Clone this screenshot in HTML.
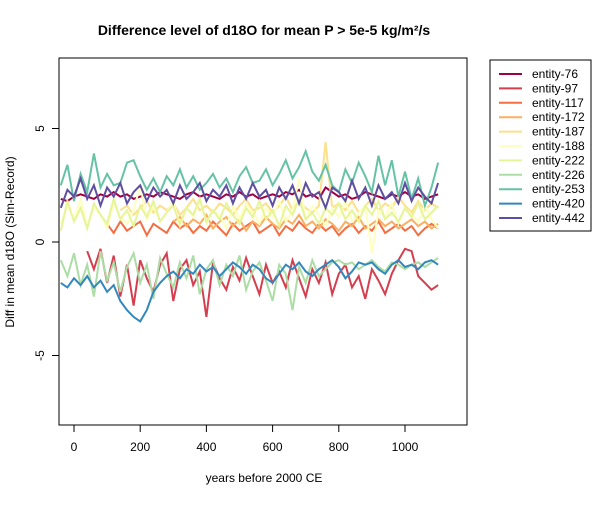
<!DOCTYPE html>
<html><head><meta charset="utf-8"><style>
body{margin:0;background:#fff;font-family:"Liberation Sans",sans-serif}
svg text{font-family:"Liberation Sans",sans-serif}
</style></head><body>
<svg id="chart" width="600" height="500">
<text x="264" y="35" text-anchor="middle" font-size="14" font-weight="bold">Difference level of d18O for mean P &gt; 5e-5 kg/m²/s</text>
<rect x="59" y="58" width="408" height="367" fill="none" stroke="#000"/>
<g id="series"></g>
<g id="axes"></g>
<text x="264" y="482" text-anchor="middle" font-size="12">years before 2000 CE</text>
<text transform="translate(14,242) rotate(-90)" text-anchor="middle" font-size="12">Diff in mean d18O (Sim-Record)</text>
<rect x="490" y="60" width="101" height="171" fill="#fff" stroke="#000"/>
<g id="legend"></g>
</svg>
<script>
const names=["entity-76","entity-97","entity-117","entity-172","entity-187","entity-188","entity-222","entity-226","entity-253","entity-420","entity-442"];
const colors=["#9E0142","#D53E4F","#F46D43","#FDAE61","#FEE08B","#FFFFBF","#E6F598","#ABDDA4","#66C2A5","#3288BD","#5E4FA2"];
const xTicks=[0,200,400,600,800,1000];
const yTicks=[-5,0,5];
const s76=[1.9,1.8,2.0,2.1,2.0,1.9,2.1,2.0,2.2,2.0,2.1,1.9,2.0,2.1,2.0,2.2,2.1,2.0,1.9,2.1,2.2,2.0,2.1,2.0,1.9,2.1,2.0,2.2,2.0,2.1,1.9,2.0,2.1,2.0,2.2,2.1,2.3,2.0,2.1,1.9,2.4,2.2,2.0,2.1,1.9,2.0,2.2,2.1,2.0,1.9,2.1,2.0,2.2,2.0,2.1,1.9,2.0,2.1];
const s97=[null,null,null,null,-0.4,-1.2,-0.3,-1.8,-0.6,-2.4,-1.0,-2.8,-0.8,-1.6,-2.2,-1.0,-0.5,-2.6,-1.2,-0.8,-1.9,-1.3,-3.3,-0.9,-1.6,-2.1,-1.1,-1.7,-0.7,-1.5,-2.3,-1.0,-1.8,-1.3,-2.0,-0.8,-1.6,-2.4,-1.2,-1.8,-0.9,-2.3,-1.4,-1.0,-2.0,-1.5,-2.5,-1.2,-1.7,-2.3,-1.4,-0.8,-0.3,-0.4,-1.5,-1.8,-2.1,-1.9];
const s117=[null,null,null,null,null,null,null,0.8,0.4,0.9,0.5,0.7,0.9,0.3,0.8,0.6,0.4,0.9,0.6,0.8,0.4,0.7,0.5,0.9,0.6,0.3,0.8,0.5,0.7,0.9,0.4,0.6,0.8,0.3,0.7,0.5,0.9,0.6,0.4,0.8,0.5,0.7,0.3,0.6,0.8,0.4,0.7,0.5,0.9,0.4,0.6,0.8,0.5,0.7,0.3,0.6,0.8,0.6];
const s172=[null,null,null,null,null,null,null,null,null,null,null,null,null,null,null,null,null,0.9,1.1,0.7,1.0,0.8,1.2,0.6,0.9,1.1,0.7,1.0,0.5,0.9,0.7,1.1,0.8,0.6,1.0,0.8,1.2,0.7,0.9,0.6,1.0,0.8,0.5,0.9,0.7,1.1,0.6,0.8,1.0,0.7,0.9,0.6,0.8,1.0,0.7,0.9,0.6,0.8];
const s187=[null,null,null,null,null,null,null,null,null,1.4,1.6,1.2,1.5,1.8,1.3,1.6,1.4,1.7,1.2,1.5,1.9,1.4,1.6,1.3,1.7,1.5,1.2,1.6,1.9,1.4,1.5,1.7,1.3,1.6,2.0,1.4,1.8,1.5,1.3,1.6,4.4,1.5,1.7,1.4,1.8,1.3,1.6,1.9,1.4,1.7,1.5,2.0,1.6,1.3,1.8,1.4,1.7,1.5];
const s188=[0.8,1.6,1.0,1.9,0.7,1.5,1.2,0.6,1.7,1.1,0.8,1.4,2.5,1.0,1.6,0.9,1.3,1.8,0.7,1.5,1.1,1.9,0.8,1.4,1.2,0.6,1.6,1.0,1.7,1.3,0.8,1.5,1.1,1.8,0.9,1.4,2.8,1.0,1.6,1.2,0.7,1.5,1.1,1.8,0.9,1.3,1.6,-0.5,1.4,1.1,1.7,0.8,1.5,1.2,0.9,1.6,1.0,0.6];
const s222=[0.5,1.8,0.9,1.5,0.6,1.7,1.2,0.8,1.9,1.0,1.4,0.7,1.6,1.1,1.8,0.9,1.3,1.6,0.8,1.5,1.2,1.9,0.9,1.4,1.0,1.7,1.2,0.8,1.5,1.1,1.8,1.0,1.4,0.7,1.6,1.2,1.9,1.0,1.3,0.8,1.5,1.2,1.7,1.0,1.4,0.9,1.6,1.2,1.8,1.0,1.3,0.9,1.5,1.1,1.7,1.0,1.3,1.6];
const s226=[-0.8,-1.5,-0.5,-1.9,-1.0,-2.4,-0.4,-1.7,-0.9,-2.2,-1.1,-0.5,-1.8,-1.0,-2.5,-0.7,-1.4,-2.0,-0.9,-1.6,-0.6,-2.3,-1.2,-0.8,-1.9,-1.0,-1.5,-0.6,-2.1,-1.3,-0.9,-1.7,-2.6,-1.0,-1.4,-3.0,-1.1,-1.8,-0.8,-1.5,-1.2,-0.9,-0.8,-1.0,-0.9,-1.2,-1.0,-0.8,-1.1,-1.3,-0.9,-1.0,-1.2,-1.0,-0.9,-1.1,-0.9,-0.7];
const s253=[2.5,3.4,1.8,3.0,2.2,3.9,2.4,3.0,2.5,2.6,3.5,3.6,2.9,2.3,2.8,2.2,2.9,2.5,3.2,2.4,2.9,2.3,2.6,3.0,2.4,2.8,2.2,2.9,3.3,2.6,2.7,3.2,2.5,3.0,3.6,2.8,3.3,4.0,3.1,2.7,3.4,2.5,2.2,3.2,2.6,3.5,2.9,2.2,3.8,2.5,3.6,2.0,3.1,1.9,2.8,1.6,2.4,3.5];
const s420=[-1.8,-2.0,-1.6,-1.9,-1.5,-2.0,-1.7,-2.2,-1.9,-2.6,-3.0,-3.3,-3.5,-3.0,-2.2,-1.8,-1.5,-1.3,-1.6,-1.2,-1.4,-1.0,-1.3,-1.1,-1.5,-1.2,-0.9,-1.1,-1.4,-1.0,-1.2,-1.6,-1.8,-1.4,-1.0,-1.2,-0.9,-1.3,-1.5,-1.2,-1.0,-0.8,-1.1,-1.6,-1.3,-0.9,-1.0,-0.9,-1.2,-1.4,-1.0,-0.8,-1.1,-1.0,-1.2,-0.9,-0.8,-1.0];
const s442=[1.5,2.3,2.0,2.8,1.9,2.5,1.6,2.4,2.0,2.6,1.7,2.2,2.5,1.8,2.4,2.0,2.3,1.7,2.5,1.9,2.2,2.6,1.8,2.3,2.0,2.5,1.7,2.4,1.9,2.6,2.0,2.3,1.6,2.4,1.9,2.5,1.7,2.6,2.0,2.2,1.5,2.4,2.2,1.8,2.7,1.9,2.4,1.6,2.5,1.9,2.2,1.7,2.6,1.8,2.4,2.0,1.7,2.6];
const seriesVals=[s76,s97,s117,s172,s187,s188,s222,s226,s253,s420,s442];
const years=[];for(let i=0;i<58;i++)years.push(-40+20*i);
const NS="http://www.w3.org/2000/svg";
const xS=v=>74+v*0.331, yS=v=>242-v*22.7;
const g=document.getElementById('series');
seriesVals.forEach((vals,k)=>{
  let d="",pen=false;
  vals.forEach((v,i)=>{if(v===null){pen=false;return;}d+=(pen?"L":"M")+xS(years[i]).toFixed(1)+","+yS(v).toFixed(1);pen=true;});
  const p=document.createElementNS(NS,'path');
  p.setAttribute('d',d);p.setAttribute('fill','none');p.setAttribute('stroke',colors[k]);p.setAttribute('stroke-width','2');
  
  
  g.appendChild(p);
});
const ax=document.getElementById('axes');
function mk(tag,attrs,txt){const e=document.createElementNS(NS,tag);for(const k in attrs)e.setAttribute(k,attrs[k]);if(txt!==undefined)e.textContent=txt;return e;}
ax.appendChild(mk('line',{x1:xS(0),x2:xS(1000),y1:425,y2:425,stroke:'#000'}));
xTicks.forEach(t=>{
  ax.appendChild(mk('line',{x1:xS(t),x2:xS(t),y1:425,y2:432,stroke:'#000'}));
  const tx=mk('text',{x:xS(t),y:451,'text-anchor':'middle','font-size':12},t);
  
  
  ax.appendChild(tx);
});
ax.appendChild(mk('line',{x1:59,x2:59,y1:yS(5),y2:yS(-5),stroke:'#000'}));
yTicks.forEach(t=>{
  ax.appendChild(mk('line',{x1:52,x2:59,y1:yS(t),y2:yS(t),stroke:'#000'}));
  const tx=mk('text',{transform:`translate(44,${yS(t)}) rotate(-90)`,'text-anchor':'middle','font-size':12},t);
  
  
  ax.appendChild(tx);
});
const lg=document.getElementById('legend');
names.forEach((n,k)=>{
  const y=74+k*14.4;
  const e=mk('g',{});
  
  
  e.appendChild(mk('line',{x1:499,x2:522,y1:y,y2:y,stroke:colors[k],'stroke-width':2}));
  e.appendChild(mk('text',{x:532,y:y+4,'font-size':12},n));
  lg.appendChild(e);
});
</script>
</body></html>
